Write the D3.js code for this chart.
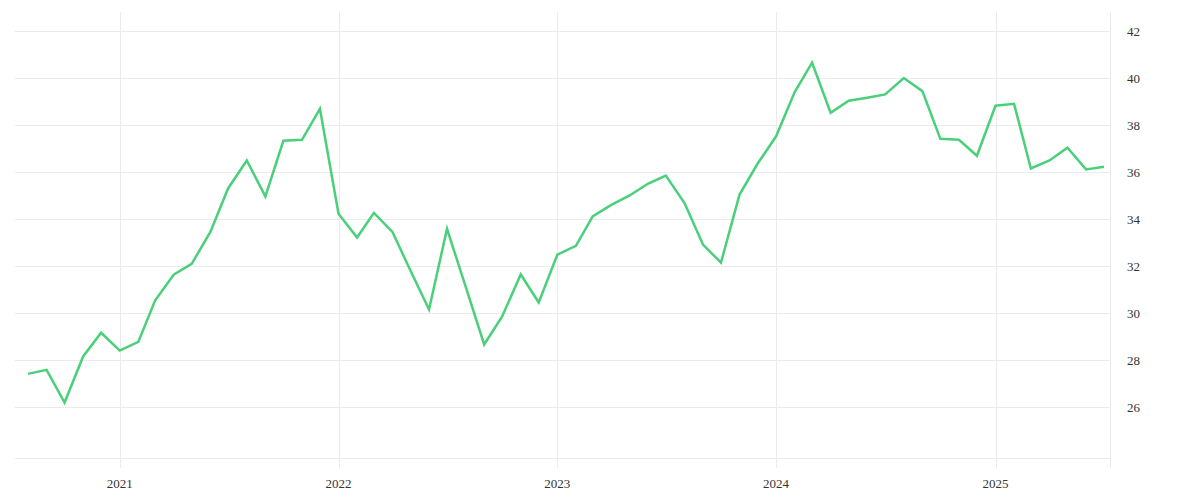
<!DOCTYPE html>
<html>
<head>
<meta charset="utf-8">
<script src="https://cdn.jsdelivr.net/npm/d3@7"></script>
<style>
  body { margin: 0; background: #fff; }
  text { font-family: "Liberation Serif", serif; }
</style>
</head>
<body>
<div id="chart"></div>
<script>
// Monthly values, Aug 2020 to Jul 2025
const startMonth = "2020-08";
const values = [
  27.41, 27.58, 26.19, 28.15, 29.16,
  28.40, 28.77, 30.53, 31.63, 32.09, 33.44, 35.31, 36.49, 34.96, 37.33, 37.37, 38.69,
  34.22, 33.21, 34.26, 33.45, 31.81, 30.15, 33.58, 31.13, 28.66, 29.85, 31.64, 30.45,
  32.48, 32.86, 34.11, 34.60, 34.99, 35.50, 35.85, 34.69, 32.91, 32.14, 35.04, 36.35,
  37.52, 39.40, 40.65, 38.52, 39.03, 39.16, 39.30, 40.00, 39.44, 37.41, 37.37, 36.69,
  38.82, 38.90, 36.15, 36.49, 37.03, 36.11, 36.22
];
const yTicks = [26, 28, 30, 32, 34, 36, 38, 40, 42];
const xTickYears = [2021, 2022, 2023, 2024, 2025];

const width = 1200;
const height = 500;
const plot = { left: 15, right: 1110, top: 12, bottom: 458 };

const parseMonth = d3.timeParse("%Y-%m");
const first = parseMonth(startMonth);
const data = values.map((v, i) => ({ date: d3.timeMonth.offset(first, i), value: v }));

const x = d3.scaleTime()
  .domain(d3.extent(data, d => d.date))
  .range([28, 1104]);

const y = d3.scaleLinear()
  .domain([26, 42])
  .range([407, 31]);

const svg = d3.select("#chart")
  .append("svg")
  .attr("width", width)
  .attr("height", height);

// horizontal grid lines
svg.append("g")
  .selectAll("line")
  .data(yTicks)
  .enter().append("line")
    .attr("x1", plot.left)
    .attr("x2", plot.right)
    .attr("y1", d => Math.round(y(d)) + 0.5)
    .attr("y2", d => Math.round(y(d)) + 0.5)
    .attr("stroke", "#ebebeb");

// bottom edge
svg.append("line")
  .attr("x1", plot.left)
  .attr("x2", plot.right)
  .attr("y1", plot.bottom + 0.5)
  .attr("y2", plot.bottom + 0.5)
  .attr("stroke", "#ebebeb");

// vertical grid lines at years
const yearDates = xTickYears.map(yr => new Date(yr, 0, 1));
svg.append("g")
  .selectAll("line")
  .data(yearDates)
  .enter().append("line")
    .attr("x1", d => Math.round(x(d)) + 0.5)
    .attr("x2", d => Math.round(x(d)) + 0.5)
    .attr("y1", plot.top)
    .attr("y2", plot.bottom + 10)
    .attr("stroke", "#ebebeb");

// right edge
svg.append("line")
  .attr("x1", plot.right + 0.5)
  .attr("x2", plot.right + 0.5)
  .attr("y1", plot.top)
  .attr("y2", plot.bottom + 10)
  .attr("stroke", "#ebebeb");

// y labels on the right
svg.append("g")
  .selectAll("text")
  .data(yTicks)
  .enter().append("text")
    .attr("x", 1127)
    .attr("y", d => y(d))
    .attr("dy", "0.35em")
    .attr("font-size", 13)
    .attr("fill", "#333")
    .text(d => d);

// x labels
svg.append("g")
  .selectAll("text")
  .data(yearDates)
  .enter().append("text")
    .attr("x", d => x(d))
    .attr("y", 488)
    .attr("text-anchor", "middle")
    .attr("font-size", 13)
    .attr("fill", "#333")
    .text(d => d3.timeFormat("%Y")(d));

// the line
const line = d3.line()
  .x(d => x(d.date))
  .y(d => y(d.value));

svg.append("path")
  .datum(data)
  .attr("fill", "none")
  .attr("stroke", "#4ad07a")
  .attr("stroke-width", 2.5)
  .attr("stroke-linejoin", "miter")
  .attr("d", line);
</script>
</body>
</html>
